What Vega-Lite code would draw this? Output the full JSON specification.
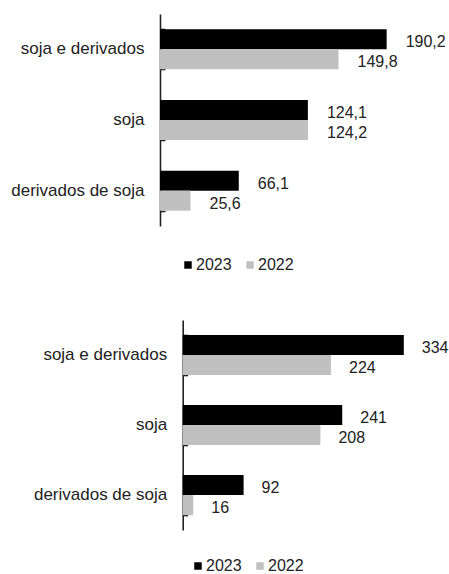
{
  "$schema": "https://vega.github.io/schema/vega-lite/v6.json",
  "padding": {"left": 0, "top": 14, "right": 0, "bottom": 0},
  "background": "white",
  "config": {
    "locale": {"number": {"decimal": ",", "thousands": ".", "grouping": [3], "currency": ["R$", ""]}},
    "view": {"stroke": null},
    "font": "Liberation Sans",
    "axis": {
      "domainColor": "#222222",
      "domainWidth": 1.6,
      "tickColor": "#222222",
      "tickWidth": 1.6,
      "labelColor": "#222222",
      "labelFont": "Liberation Sans",
      "labelFontSize": 17,
      "grid": false,
      "zindex": 1
    },
    "legend": {
      "labelFont": "Liberation Sans",
      "labelFontSize": 16,
      "labelColor": "#222222",
      "symbolType": "square",
      "symbolSize": 56,
      "symbolStrokeWidth": 0,
      "labelOffset": 0,
      "columnPadding": 10
    }
  },
  "datasets": {
    "valor": [
      {"produto": "soja e derivados", "ano": "2023", "v": 190.2},
      {"produto": "soja e derivados", "ano": "2022", "v": 149.8},
      {"produto": "soja", "ano": "2023", "v": 124.1},
      {"produto": "soja", "ano": "2022", "v": 124.2},
      {"produto": "derivados de soja", "ano": "2023", "v": 66.1},
      {"produto": "derivados de soja", "ano": "2022", "v": 25.6}
    ],
    "volume": [
      {"produto": "soja e derivados", "ano": "2023", "v": 334},
      {"produto": "soja e derivados", "ano": "2022", "v": 224},
      {"produto": "soja", "ano": "2023", "v": 241},
      {"produto": "soja", "ano": "2022", "v": 208},
      {"produto": "derivados de soja", "ano": "2023", "v": 92},
      {"produto": "derivados de soja", "ano": "2022", "v": 16}
    ]
  },
  "resolve": {"scale": {"x": "independent", "color": "independent"}, "legend": {"color": "independent"}},
  "spacing": 47,
  "vconcat": [
    {
      "data": {"name": "valor"},
      "width": 286,
      "height": 212,
      "resolve": {"axis": {"y": "independent"}},
      "encoding": {
        "y": {
          "field": "produto",
          "type": "nominal",
          "sort": ["soja e derivados", "soja", "derivados de soja"],
          "scale": {"paddingInner": 0.434, "paddingOuter": 0.217}
        },
        "yOffset": {"field": "ano", "type": "nominal", "sort": ["2023", "2022"]},
        "x": {"field": "v", "type": "quantitative", "scale": {"domain": [0, 240], "nice": false}, "axis": null}
      },
      "layer": [
        {
          "mark": {"type": "bar"},
          "encoding": {
            "y": {
              "field": "produto",
              "type": "nominal",
              "sort": ["soja e derivados", "soja", "derivados de soja"],
              "axis": {"title": null, "orient": "left", "domain": false, "ticks": false, "labelPadding": 16, "minExtent": 160}
            },
            "color": {
              "field": "ano",
              "type": "nominal",
              "scale": {"domain": ["2023", "2022"], "range": ["#000000", "#c0c0c0"]},
              "legend": {"title": null, "orient": "none", "direction": "horizontal", "legendX": 20, "legendY": 243}
            }
          }
        },
        {
          "mark": {"type": "text", "align": "left", "baseline": "middle", "dx": 19, "dy": 3, "fontSize": 16, "color": "#222222"},
          "encoding": {
            "y": {
              "field": "produto",
              "type": "nominal",
              "sort": ["soja e derivados", "soja", "derivados de soja"],
              "axis": {"title": null, "orient": "right", "offset": -286, "labels": false, "domain": true, "ticks": true, "tickSize": 5, "tickBand": "extent", "minExtent": 0}
            },
            "text": {"field": "v", "type": "quantitative", "format": ".1f"}
          }
        }
      ]
    },
    {
      "data": {"name": "volume"},
      "width": 288,
      "height": 210,
      "resolve": {"axis": {"y": "independent"}},
      "encoding": {
        "y": {
          "field": "produto",
          "type": "nominal",
          "sort": ["soja e derivados", "soja", "derivados de soja"],
          "scale": {"paddingInner": 0.43, "paddingOuter": 0.215}
        },
        "yOffset": {"field": "ano", "type": "nominal", "sort": ["2023", "2022"]},
        "x": {"field": "v", "type": "quantitative", "scale": {"domain": [0, 400], "nice": false, "range": [22.7, 287.5]}, "axis": null}
      },
      "layer": [
        {
          "mark": {"type": "bar"},
          "encoding": {
            "y": {
              "field": "produto",
              "type": "nominal",
              "sort": ["soja e derivados", "soja", "derivados de soja"],
              "axis": {"title": null, "orient": "left", "offset": -22.7, "domain": false, "ticks": false, "labelPadding": 16, "minExtent": 160}
            },
            "color": {
              "field": "ano",
              "type": "nominal",
              "scale": {"domain": ["2023", "2022"], "range": ["#000000", "#c0c0c0"]},
              "legend": {"title": null, "orient": "none", "direction": "horizontal", "legendX": 30, "legendY": 238}
            }
          }
        },
        {
          "mark": {"type": "text", "align": "left", "baseline": "middle", "dx": 18, "dy": 3, "fontSize": 16, "color": "#222222"},
          "encoding": {
            "y": {
              "field": "produto",
              "type": "nominal",
              "sort": ["soja e derivados", "soja", "derivados de soja"],
              "axis": {"title": null, "orient": "right", "offset": -265.3, "labels": false, "domain": true, "ticks": true, "tickSize": 5, "tickBand": "extent", "minExtent": 0}
            },
            "text": {"field": "v", "type": "quantitative", "format": "d"}
          }
        }
      ]
    }
  ]
}
